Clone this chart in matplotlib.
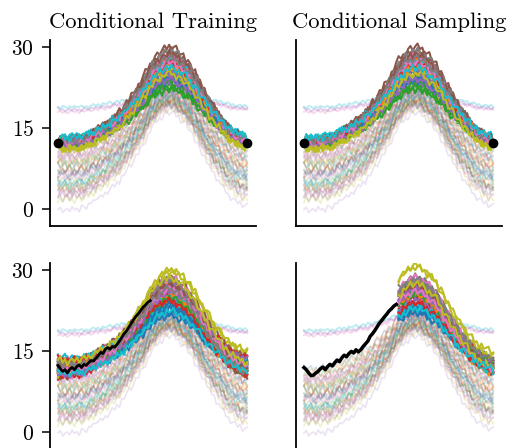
import numpy as np
import matplotlib
matplotlib.use('Agg')
import matplotlib.pyplot as plt

plt.rcParams['font.family'] = 'serif'
plt.rcParams['font.serif'] = ['cmr10']
plt.rcParams['mathtext.fontset'] = 'cm'
plt.rcParams['axes.formatter.use_mathtext'] = True

# daily profile: 0 at both ends, 1 at the peak
bump = np.array([0.00, 0.00, -0.01, -0.01, -0.02, -0.01, -0.01, 0.00, 0.00, 0.00,
                 0.01, 0.01, 0.02, 0.04, 0.06, 0.07, 0.09, 0.11, 0.12, 0.14,
                 0.16, 0.18, 0.20, 0.22, 0.24, 0.27, 0.29, 0.32, 0.35, 0.39,
                 0.42, 0.46, 0.50, 0.54, 0.58, 0.62, 0.66, 0.71, 0.76, 0.81,
                 0.85, 0.88, 0.91, 0.94, 0.96, 0.98, 0.99, 1.00, 1.00, 0.99,
                 0.97, 0.95, 0.92, 0.90, 0.87, 0.84, 0.81, 0.76, 0.72, 0.67,
                 0.62, 0.57, 0.52, 0.48, 0.43, 0.39, 0.35, 0.31, 0.28, 0.24,
                 0.20, 0.17, 0.13, 0.11, 0.09, 0.07, 0.05, 0.04, 0.02, 0.01,
                 0.00])
# small day-to-day jitter, hand typed
wiggle = np.array([0.0, 0.4, -0.3, 0.2, -0.5, 0.1, 0.6, -0.2, 0.3, -0.6,
                   0.5, -0.1, 0.2, 0.7, -0.4, 0.0, 0.5, -0.3, 0.6, 0.1,
                   -0.5, 0.3, -0.2, 0.4, 0.8, -0.1, 0.2, -0.6, 0.3, 0.5,
                   -0.4, 0.1, 0.6, -0.2, 0.4, -0.5, 0.2, 0.7, -0.3, 0.0,
                   0.5, -0.6, 0.3, 0.1, -0.4, 0.6, -0.2, 0.4, -0.1, 0.5,
                   -0.5, 0.2, 0.0, 0.6, -0.3, 0.3, -0.6, 0.1, 0.4, -0.2,
                   0.5, -0.4, 0.2, 0.7, -0.1, 0.3, -0.5, 0.0, 0.4, -0.3,
                   0.6, -0.2, 0.1, -0.6, 0.5, 0.2, -0.4, 0.3, -0.1, 0.4,
                   0.0])
t = np.linspace(0, 1, len(bump))

# faint training curves
faint_start = [12, 11.5, 11, 10.5, 10, 9.8, 9.5, 9, 8.7, 8.3, 8, 7.6, 7.2, 7, 6.7, 6.3,
               6, 5.6, 5.2, 5, 4.7, 4.3, 4, 3.6, 3.2, 3, 2.6, 2.2, 1.8, 4.5, 6.5, 8.5]
faint_end = [11.5, 12, 10.5, 11, 9.5, 10, 8.8, 9.5, 8, 9, 7.5, 8, 6.5, 7.5, 6, 7,
             5.5, 6, 4.5, 5.5, 4, 5, 3.5, 4, 2.8, 3.5, 2, 2.5, 1.5, 5, 6, 9]
faint_peak = [22.8, 23, 22, 22.5, 21.5, 22, 21, 21.8, 20.5, 21.5, 20.8, 21.2, 20, 21, 20.3, 20.7,
              19.5, 20.2, 19.8, 20.5, 19.2, 20, 19.5, 19.8, 19, 19.6, 18.8, 19.3, 18.5, 20.8, 21.6, 22.3]
low_start, low_end, low_peak = 0.0, 0.3, 17.8
high_start = [18.0, 18.9, 18.4]
high_end = [18.4, 19.0, 18.6]
high_peak = [21.6, 22.3, 21.9]
high_colors = ['tab:pink', 'tab:cyan', 'tab:purple']

# conditional samples: peak height by colour (C0..C9), per-cycle shift, offset
obs_level = 12.3
top_amp = [12.0, 13.8, 10.8, 14.8, 12.5, 16.2, 15.2, 15.6, 14.2, 13.3]
bot_amp = [10.8, 14.3, 13.4, 13.0, 14.0, 15.6, 15.0, 15.2, 16.0, 11.6]
cycle_shift = [0.0, -1.0, 0.8, -0.5]
color_off = [0.3, 0.6, 0.0, 0.4, -0.3, 0.7, 0.2, 0.5, -1.0, 1.0]
bl_start = [12.0, 11.0, 13.2, 11.6, 12.6, 10.4, 13.8, 11.2, 12.4, 13.0,
            11.4, 12.2, 10.8, 12.8, 11.8, 13.4, 10.6, 12.0, 13.6, 11.0,
            12.6, 11.6, 13.0, 10.2, 12.2, 11.4, 12.8, 13.2, 10.8, 14.0,
            11.8, 12.4, 11.2, 13.6, 10.6, 12.0, 11.6, 12.8, 13.4, 11.0]
bl_end = [11.2, 12.4, 10.8, 13.6, 11.8, 12.8, 11.4, 13.0, 14.6, 11.6,
          12.0, 10.6, 13.2, 11.0, 12.6, 14.0, 11.8, 12.2, 10.8, 13.4,
          11.4, 12.8, 11.0, 13.8, 12.2, 10.4, 12.6, 11.6, 15.0, 12.0,
          13.0, 11.2, 12.4, 10.6, 13.6, 11.8, 12.2, 11.0, 12.8, 11.4]
br_end = [12.0, 11.4, 12.8, 11.8, 13.2, 11.0, 12.4, 13.6, 14.8, 11.6,
          12.2, 11.0, 13.0, 12.4, 11.6, 13.4, 12.0, 11.2, 12.6, 13.0,
          11.8, 12.6, 11.4, 13.2, 12.0, 11.6, 12.8, 12.2, 13.8, 11.2,
          12.4, 11.8, 13.0, 11.4, 12.6, 12.2, 11.6, 13.4, 12.0, 11.8]
br_from = 40

# observed trajectories (black)
obs_bl = [12.4, 11.8, 11.3, 11.6, 11.0, 11.7, 12.0, 11.6, 12.2, 12.5,
          12.0, 12.6, 12.4, 12.9, 13.3, 13.2, 13.7, 14.2, 14.8, 14.6,
          15.4, 15.7, 15.4, 15.9, 15.8, 16.3, 16.9, 17.6, 18.3, 18.8,
          19.5, 20.2, 20.9, 21.5, 22.0, 22.6, 23.2, 23.6, 24.1, 24.4]
obs_br = [12.0, 11.6, 11.0, 10.5, 10.6, 11.0, 11.3, 11.8, 12.1, 11.6,
          12.2, 12.6, 12.3, 12.9, 13.4, 13.1, 13.8, 14.3, 14.0, 14.6,
          15.0, 14.7, 15.3, 14.9, 15.3, 15.9, 16.4, 16.9, 17.8, 18.3,
          18.9, 19.6, 20.3, 20.8, 21.4, 21.9, 22.5, 22.9, 23.4, 23.7]

fig = plt.figure(figsize=(5.08, 4.48), dpi=100)
w, h = 0.405, 0.415
axes = [fig.add_axes([0.0984, 0.4955, w, h]), fig.add_axes([0.5827, 0.4955, w, h]),
        fig.add_axes([0.0984, -0.003, w, h]), fig.add_axes([0.5827, -0.003, w, h])]


def draw_background(ax):
    for k in range(len(faint_start)):
        s, e = faint_start[k], faint_end[k]
        amp = faint_peak[k] - (0.4 * s + 0.6 * e)
        y = s * (1 - t) + e * t + amp * bump + 1.2 * np.roll(wiggle, 5 * k + 2)
        ax.plot(t, y, color='C%d' % (k % 10), alpha=0.22, lw=1.2, zorder=1)
    amp = low_peak - (0.4 * low_start + 0.6 * low_end)
    y = low_start * (1 - t) + low_end * t + amp * bump + np.roll(wiggle, 17)
    ax.plot(t, y, color='tab:purple', alpha=0.18, lw=1.2, zorder=1)
    for k in range(len(high_start)):
        s, e = high_start[k], high_end[k]
        amp = high_peak[k] - (0.4 * s + 0.6 * e)
        y = s * (1 - t) + e * t + amp * bump + 0.5 * np.roll(wiggle, 9 * k)
        ax.plot(t, y, color=high_colors[k], alpha=0.28, lw=1.4, zorder=1)


for i, ax in enumerate(axes):
    draw_background(ax)
    for k in range(40):
        c = k % 10
        shift = cycle_shift[k // 10]
        jit = 1.1 * np.roll(wiggle, 7 * k + 3 * i)
        if i < 2:
            y = obs_level + color_off[c] + (top_amp[c] + shift) * bump + jit
            y[0] = y[-1] = obs_level
            ax.plot(t, y, color='C%d' % c, lw=1.5, zorder=2)
        elif i == 2:
            y = (bl_start[k] * (1 - t) + bl_end[k] * t
                 + (bot_amp[c] + shift) * bump + jit)
            ax.plot(t, y, color='C%d' % c, lw=1.5, zorder=2)
        else:
            y = br_end[k] + (bot_amp[c] + shift) * bump + jit
            ax.plot(t[br_from:], y[br_from:], color='C%d' % c, lw=1.5, zorder=2)
    if i < 2:
        ax.plot([t[0], t[-1]], [obs_level, obs_level], 'o', color='black',
                ms=6, zorder=4)
    elif i == 2:
        ax.plot(t[:len(obs_bl)], obs_bl, color='black', lw=2.0, zorder=3)
    else:
        ax.plot(t[:len(obs_br)], obs_br, color='black', lw=2.5, zorder=3)

    ax.set_xlim(-0.042, 1.045)
    ax.set_ylim(-3.15, 31.3)
    ax.set_xticks([])
    ax.spines['top'].set_visible(False)
    ax.spines['right'].set_visible(False)
    for sp in ['left', 'bottom']:
        ax.spines[sp].set_linewidth(1.3)
    if i % 2 == 0:
        ax.set_yticks([0, 15, 30])
        ax.tick_params(axis='y', labelsize=15.5, length=6, width=1.1, pad=5.5)
    else:
        ax.set_yticks([])

axes[0].set_title('Conditional Training', fontsize=16.3, pad=9)
axes[1].set_title('Conditional Sampling', fontsize=16.3, pad=9)

fig.savefig('out.png', dpi=100)
